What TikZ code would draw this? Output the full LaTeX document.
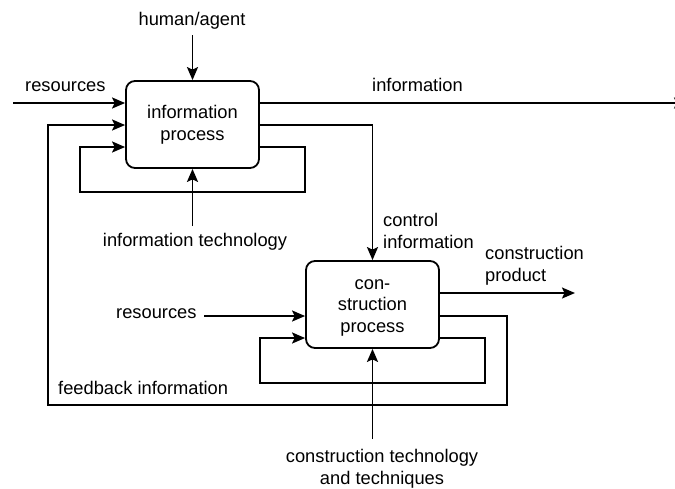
\documentclass[tikz,border=0pt]{standalone}
\usepackage{fontspec}
\setmainfont{Liberation Sans}
\usetikzlibrary{arrows.meta}
\tikzset{
  proc/.style={draw, line width=1.8pt, rounded corners=9pt, minimum width=133pt, minimum height=87pt, align=center, inner sep=0pt},
  lbl/.style={inner sep=0pt, align=left},
  ln/.style={line width=1.7pt},
  arr/.style={ln, -{Stealth[length=13pt,width=11pt,inset=2.5pt]}},
}
\begin{document}
\begin{tikzpicture}[x=1pt,y=-1pt, font=\fontsize{18.3}{21.5}\selectfont]
\useasboundingbox (0,0) rectangle (675,488);
% process boxes
\node[proc] (ib) at (192.5,124.5) {};
\node[proc] (cb) at (372.5,304.5) {};
\node[lbl, anchor=base, align=center] (ibt) at (192.5,140) {information\\process};
\node[lbl, anchor=base, align=center] (cbt) at (372.5,332) {con-\\struction\\process};
% labels
\node[lbl, anchor=base] (ha) at (192,25) {human/agent};
\node[lbl, anchor=base west] (res1) at (25,91) {resources};
\node[lbl, anchor=base west] (inf) at (372,91) {information};
\node[lbl, anchor=base] (it) at (195,246) {information technology};
\node[lbl, anchor=base west] (ci) at (383,248) {control\\information};
\node[lbl, anchor=base west] (cp) at (485,281) {construction\\product};
\node[lbl, anchor=base west] (res2) at (116,318) {resources};
\node[lbl, anchor=base west] (fb) at (58,394) {feedback information};
\node[lbl, anchor=base, align=center] (ct) at (382,484) {construction technology\\and techniques};
% helper coordinates
\coordinate (haS) at (192.5,35);
\coordinate (r1) at (13,103);
\coordinate (iend) at (687,103);
\coordinate (cy) at (373,125);
\coordinate (ly) at (0,147);
\coordinate (l1) at (305,192);
\coordinate (l2) at (80,192);
\coordinate (itN) at (192.5,226);
\coordinate (fy) at (0,316);
\coordinate (fz) at (0,125);
\coordinate (f1) at (507,405);
\coordinate (f2) at (48,405);
\coordinate (r2) at (204,316);
\coordinate (cly) at (0,338);
\coordinate (c1) at (485,383);
\coordinate (c2) at (260,383);
\coordinate (cpy) at (575,293);
\coordinate (ctN) at (372.5,439);
% connectors
\draw[arr] (haS) -- (ib.north);
\draw[arr] (r1) -- (r1 -| ib.west);
\draw[arr] (iend -| ib.east) -- (iend);
\draw[arr] (cy -| ib.east) -| (cb.north);
\draw[arr] (ly -| ib.east) -| (l1) -- (l2) |- (ly -| ib.west);
\draw[arr] (itN) -- (ib.south);
\draw[arr] (fy -| cb.east) -| (f1) -- (f2) |- (fz -| ib.west);
\draw[arr] (r2) -- (r2 -| cb.west);
\draw[arr] (cly -| cb.east) -| (c1) -- (c2) |- (cly -| cb.west);
\draw[arr] (cpy -| cb.east) -- (cpy);
\draw[arr] (ctN) -- (cb.south);
\end{tikzpicture}
\end{document}
